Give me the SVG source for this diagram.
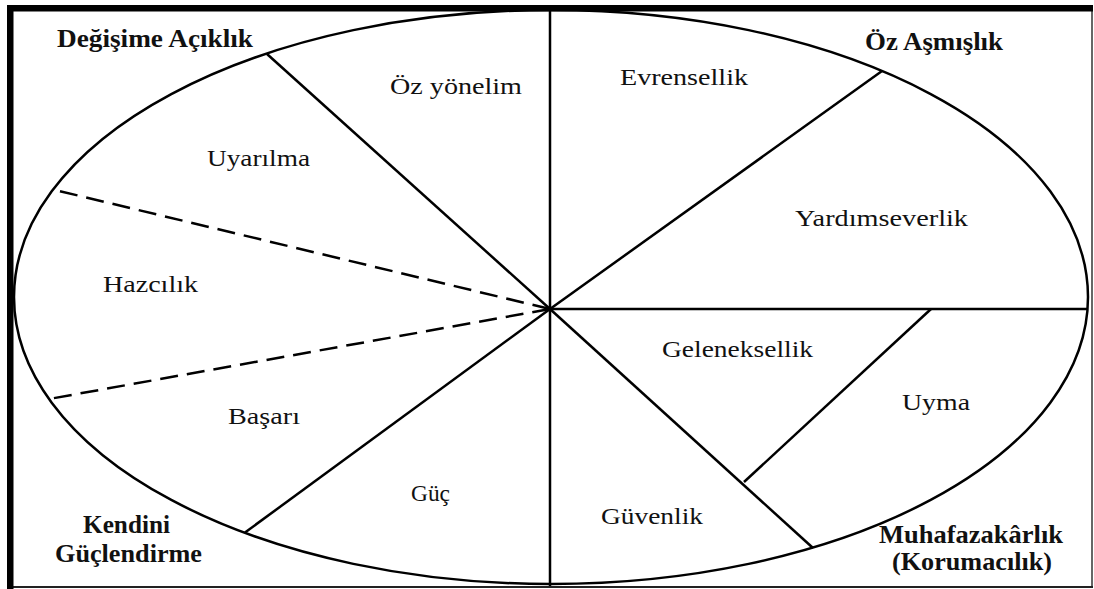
<svg xmlns="http://www.w3.org/2000/svg" width="1094" height="589" viewBox="0 0 1094 589">
<style>
.ln{stroke:#000;stroke-width:2.5;fill:none;stroke-linecap:butt}
.ds{stroke:#000;stroke-width:2.5;fill:none;stroke-dasharray:18 9}
.t{font-family:"Liberation Serif","Times New Roman",serif;font-size:24px;fill:#111}
.b{font-family:"Liberation Serif","Times New Roman",serif;font-size:25px;font-weight:bold;fill:#111}
</style>
<rect x="0" y="0" width="1094" height="589" fill="#fff"/>
<g id="frame">
<line x1="1092" y1="8" x2="1092" y2="588" stroke="#333" stroke-width="1.5"/>
<line x1="10" y1="587" x2="1093" y2="587" stroke="#222" stroke-width="2"/>
<rect x="7" y="5" width="1086" height="6.5" fill="#000"/>
<rect x="7" y="5" width="6.5" height="584" fill="#000"/>
</g>
<g id="ellipse">
<ellipse class="ln" cx="551" cy="297" rx="537" ry="287"/>
</g>
<g id="connectors">
<line class="ln" x1="550" y1="10" x2="550" y2="586"/>
<line class="ln" x1="550" y1="309" x2="1088" y2="309"/>
<line class="ln" x1="550" y1="309" x2="267" y2="54"/>
<line class="ds" x1="550" y1="309" x2="53" y2="189.5"/>
<line class="ds" x1="550" y1="309" x2="49" y2="399"/>
<line class="ln" x1="550" y1="309" x2="245" y2="532.5"/>
<line class="ln" x1="550" y1="309" x2="882" y2="71"/>
<line class="ln" x1="550" y1="309" x2="813" y2="548"/>
<line class="ln" x1="931" y1="309" x2="744" y2="482"/>
</g>
<g id="group-labels">
<text class="b" x="57" y="47" textLength="196" lengthAdjust="spacingAndGlyphs">Değişime Açıklık</text>
<text class="b" x="865" y="50" textLength="138" lengthAdjust="spacingAndGlyphs">Öz Aşmışlık</text>
<text class="b" x="83" y="533" textLength="87" lengthAdjust="spacingAndGlyphs">Kendini</text>
<text class="b" x="55" y="562" textLength="147" lengthAdjust="spacingAndGlyphs">Güçlendirme</text>
<text class="b" x="879" y="543" textLength="184" lengthAdjust="spacingAndGlyphs">Muhafazakârlık</text>
<text class="b" x="892" y="570" textLength="160" lengthAdjust="spacingAndGlyphs">(Korumacılık)</text>
</g>
<g id="value-labels">
<text class="t" x="390" y="94" textLength="132" lengthAdjust="spacingAndGlyphs">Öz yönelim</text>
<text class="t" x="620" y="85" textLength="128" lengthAdjust="spacingAndGlyphs">Evrensellik</text>
<text class="t" x="207" y="166" textLength="103" lengthAdjust="spacingAndGlyphs">Uyarılma</text>
<text class="t" x="795" y="226" textLength="173" lengthAdjust="spacingAndGlyphs">Yardımseverlik</text>
<text class="t" x="103" y="292" textLength="95" lengthAdjust="spacingAndGlyphs">Hazcılık</text>
<text class="t" x="662" y="357" textLength="151" lengthAdjust="spacingAndGlyphs">Geleneksellik</text>
<text class="t" x="902" y="410" textLength="68" lengthAdjust="spacingAndGlyphs">Uyma</text>
<text class="t" x="228" y="424" textLength="72" lengthAdjust="spacingAndGlyphs">Başarı</text>
<text class="t" x="411" y="501" textLength="39" lengthAdjust="spacingAndGlyphs">Güç</text>
<text class="t" x="601" y="524" textLength="102" lengthAdjust="spacingAndGlyphs">Güvenlik</text>
</g>
</svg>
